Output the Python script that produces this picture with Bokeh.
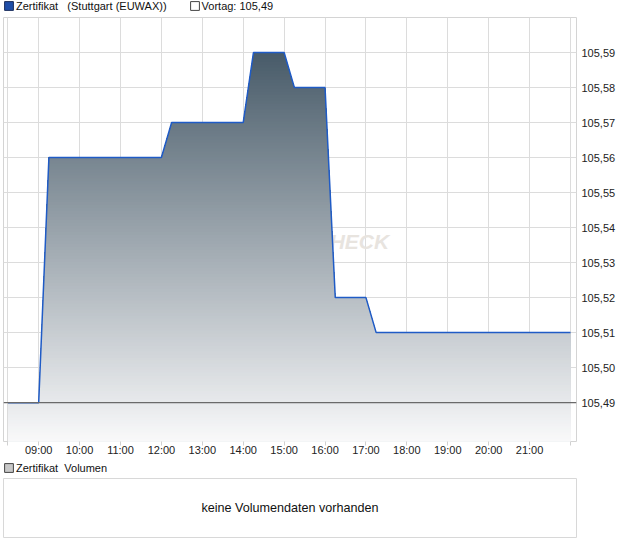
import numpy as np
from bokeh.plotting import figure
from bokeh.models import Range1d, FixedTicker, Legend, LegendItem, Span, Label
from bokeh.layouts import column
from bokeh.core.properties import value
from bokeh.embed import file_html
from bokeh.resources import INLINE

# ---------------- data ----------------
times = ["08:15", "09:00", "09:15", "12:00", "12:15", "14:00", "14:15",
         "15:00", "15:15", "16:00", "16:15", "17:00", "17:15", "22:00"]
prices = [105.49, 105.49, 105.56, 105.56, 105.57, 105.57, 105.59,
          105.59, 105.58, 105.58, 105.52, 105.52, 105.51, 105.51]
prev_close = 105.49

x_tick_times = ["08:15", "09:00", "10:00", "11:00", "12:00", "13:00", "14:00", "15:00",
                "16:00", "17:00", "18:00", "19:00", "20:00", "21:00", "22:00"]
x_tick_labels = ["", "09:00", "10:00", "11:00", "12:00", "13:00", "14:00", "15:00",
                 "16:00", "17:00", "18:00", "19:00", "20:00", "21:00", ""]
y_ticks = [105.49, 105.50, 105.51, 105.52, 105.53, 105.54, 105.55, 105.56, 105.57, 105.58, 105.59]
y_tick_labels = ["105,49", "105,50", "105,51", "105,52", "105,53", "105,54",
                 "105,55", "105,56", "105,57", "105,58", "105,59"]

series_label = "Zertifikat   (Stuttgart (EUWAX))"
prev_label = "Vortag: 105,49"
volume_legend = "Zertifikat  Volumen"
volume_note = "keine Volumendaten vorhanden"
watermark = "CHECK"

FONT = "Liberation Sans"


def to_hours(s):
    h, m = s.split(":")
    return int(h) + int(m) / 60.0


t = np.array([to_hours(s) for s in times])
y = np.array(prices)
x_ticks = [to_hours(s) for s in x_tick_times]

X0, X1 = 8.14, 22.147
Y0, Y1 = 105.4789, 105.600

W = 618
B_LEFT = 3
B_RIGHT = 40


def legend_strip(height, label_specs, vy):
    """A small figure holding only a legend (keys from hidden renderers)."""
    f = figure(width=W, height=height, output_backend="svg", toolbar_location=None,
               x_range=Range1d(0, 1), y_range=Range1d(0, 1),
               x_axis_type=None, y_axis_type=None,
               min_border_left=B_LEFT - 1, min_border_right=0,
               min_border_top=0, min_border_bottom=0)
    f.grid.visible = False
    f.outline_line_color = None
    items = []
    for label, fill, line in label_specs:
        r = f.quad(left=[0], right=[1], top=[1], bottom=[0],
                   fill_color=fill, line_color=line, visible=False)
        items.append(LegendItem(label=label, renderers=[r]))
    lg = Legend(items=items, orientation="horizontal", location=(0, vy),
                glyph_width=11, glyph_height=11, label_standoff=2, spacing=22,
                padding=0, margin=0, border_line_color=None, background_fill_alpha=0,
                inactive_fill_alpha=0,
                label_text_font=FONT, label_text_font_size="11px", label_height=11,
                label_text_color="#111111")
    f.add_layout(lg)
    return f


# ---------------- header legend ----------------
header = legend_strip(16, [(series_label, "#1f4ea8", "#1b2e5c"),
                           (prev_label, "white", "#444444")], 4.5)

# ---------------- main chart ----------------
TOP_B = 1
BOT_B = 19
FRAME_H = 424
H_MAIN = TOP_B + FRAME_H + BOT_B

p = figure(width=W, height=H_MAIN, output_backend="svg", toolbar_location=None,
           x_range=Range1d(X0, X1), y_range=Range1d(Y0, Y1),
           y_axis_location="right", min_border_left=B_LEFT, min_border_right=B_RIGHT,
           min_border_top=TOP_B, min_border_bottom=BOT_B)
p.outline_line_color = "#d4d4d4"
p.background_fill_color = "white"
p.border_fill_color = "white"

p.xgrid.grid_line_color = "#dcdcdc"
p.ygrid.grid_line_color = "#dcdcdc"

p.xaxis.ticker = FixedTicker(ticks=x_ticks)
p.xaxis.major_label_overrides = {k: v for k, v in zip(x_ticks, x_tick_labels)}
p.xaxis.axis_line_color = None
p.xaxis.major_tick_line_color = "#d0d0d0"
p.xaxis.major_tick_out = 4
p.xaxis.major_tick_in = 0
p.xaxis.minor_tick_line_color = None
p.xaxis.major_label_standoff = -2
p.xaxis.major_label_text_font = FONT
p.xaxis.major_label_text_font_size = "11px"
p.xaxis.major_label_text_color = "#222222"

p.yaxis.ticker = FixedTicker(ticks=y_ticks)
p.yaxis.major_label_overrides = {k: v for k, v in zip(y_ticks, y_tick_labels)}
p.yaxis.axis_line_color = None
p.yaxis.major_tick_line_color = None
p.yaxis.major_tick_out = 0
p.yaxis.major_tick_in = 0
p.yaxis.minor_tick_line_color = None
p.yaxis.major_label_standoff = 5
p.yaxis.major_label_text_font = FONT
p.yaxis.major_label_text_font_size = "11px"
p.yaxis.major_label_text_color = "#222222"

# watermark (mostly hidden behind the area)
p.text(x=[17.567], y=[105.5361], text=[watermark], text_align="right",
       text_baseline="middle", text_font=value(FONT), text_font_style="bold italic",
       text_font_size="21px", text_color="#e8e4df")

# gradient area: stacked bands, darkest on top
top = float(y.max())
n_bands = 130
levels = np.linspace(top, Y0, n_bands + 1)[:-1]
c_top = np.array([0x48, 0x5b, 0x69], dtype=float)
c_bot = np.array([0xf9, 0xf9, 0xfa], dtype=float)
step = (top - Y0) / n_bands
for L in levels:
    xs = list(t)
    for i in range(len(t) - 1):
        a, b = y[i], y[i + 1]
        if (a - L) * (b - L) < 0:
            xs.append(t[i] + (L - a) / (b - a) * (t[i + 1] - t[i]))
    xs = np.sort(np.array(xs))
    ys = np.minimum(np.interp(xs, t, y), L)
    frac = (top - (L - step / 2)) / (top - Y0)
    c = c_top + (c_bot - c_top) * frac
    col = "#%02x%02x%02x" % tuple(int(round(v)) for v in c)
    p.varea(x=xs, y1=np.full(len(xs), Y0), y2=ys, fill_color=col)

p.line(t, y, line_color="#1f5bc6", line_width=1.5)
p.add_layout(Span(location=prev_close, dimension="width", line_color="#6a6a6a", line_width=1.2))

# ---------------- volume legend + panel ----------------
vlegend = legend_strip(17, [(volume_legend, "#c8c8c8", "#444444")], 3.5)

V_TOP = 1
V_FRAME_H = 59
V_BOT = 3
v = figure(width=W, height=V_TOP + V_FRAME_H + V_BOT, output_backend="svg", toolbar_location=None,
           x_range=Range1d(0, 1), y_range=Range1d(0, 1),
           x_axis_type=None, y_axis_type=None,
           min_border_left=B_LEFT, min_border_right=B_RIGHT, min_border_top=V_TOP,
           min_border_bottom=V_BOT)
v.grid.visible = False
v.outline_line_color = "#d8d8d8"
v.add_layout(Label(x=0.5, y=0.5, text=volume_note, text_align="center", text_baseline="middle",
                   text_font=FONT, text_font_size="12.6px", text_color="#111111"))

layout = column(header, p, vlegend, v, spacing=0)
open("out.html", "w").write(file_html(layout, INLINE))
